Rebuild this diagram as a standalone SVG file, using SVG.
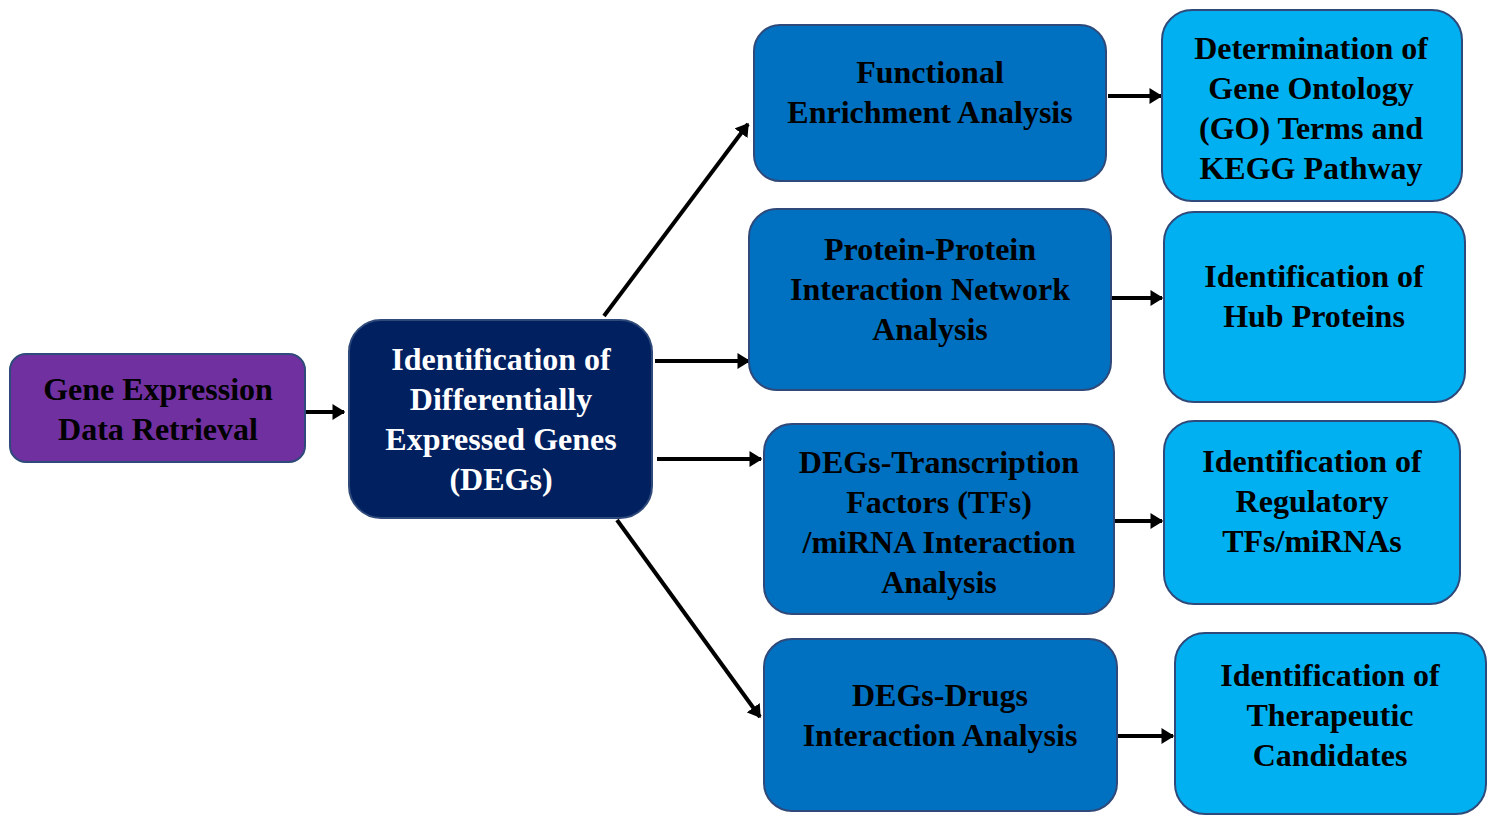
<svg xmlns="http://www.w3.org/2000/svg" width="1492" height="816" viewBox="0 0 1492 816">
<style>
.box{stroke:#2F4A7A;stroke-width:2}
.purple{fill:#7030A0}
.navy{fill:#002060}
.mid{fill:#0070C0}
.light{fill:#00B0F0}
text{font-family:"Liberation Serif","Times New Roman",serif;font-weight:bold;font-size:32px;text-anchor:middle}
.dark{fill:#000}
.white{fill:#fff}
.conn{stroke:#000;stroke-width:4;fill:none;marker-end:url(#ah)}
</style>
<defs>
<marker id="ah" viewBox="0 0 10 10" refX="9" refY="5" markerWidth="3.2" markerHeight="4" orient="auto" markerUnits="strokeWidth" preserveAspectRatio="none">
<path d="M0,0 L10,5 L0,10 z" fill="#000"/>
</marker>
</defs>
<g id="connectors">
<line class="conn" x1="305" y1="412" x2="344" y2="412"/>
<line class="conn" x1="604" y1="316" x2="748" y2="124"/>
<line class="conn" x1="655" y1="361" x2="749" y2="361"/>
<line class="conn" x1="657" y1="459" x2="761" y2="459"/>
<line class="conn" x1="617" y1="520" x2="760" y2="717"/>
<line class="conn" x1="1108" y1="96" x2="1161" y2="96"/>
<line class="conn" x1="1112" y1="298" x2="1162" y2="298"/>
<line class="conn" x1="1115" y1="521" x2="1162" y2="521"/>
<line class="conn" x1="1117" y1="736" x2="1173" y2="736"/>
</g>
<g id="n-gene">
<rect class="box purple" x="10" y="354" width="295" height="108" rx="16"/>
<text class="dark" x="158" y="400">Gene Expression</text>
<text class="dark" x="158" y="440">Data Retrieval</text>
</g>
<g id="n-degs">
<rect class="box navy" x="349" y="320" width="303" height="198" rx="32"/>
<text class="white" x="501" y="370">Identification of</text>
<text class="white" x="501" y="410">Differentially</text>
<text class="white" x="501" y="450">Expressed Genes</text>
<text class="white" x="501" y="490">(DEGs)</text>
</g>
<g id="n-func">
<rect class="box mid" x="754" y="25" width="352" height="156" rx="26"/>
<text class="dark" x="930" y="83">Functional</text>
<text class="dark" x="930" y="123">Enrichment Analysis</text>
</g>
<g id="n-ppi">
<rect class="box mid" x="749" y="209" width="362" height="181" rx="28"/>
<text class="dark" x="930" y="260">Protein-Protein</text>
<text class="dark" x="930" y="300">Interaction Network</text>
<text class="dark" x="930" y="340">Analysis</text>
</g>
<g id="n-tf">
<rect class="box mid" x="764" y="424" width="350" height="190" rx="28"/>
<text class="dark" x="939" y="473">DEGs-Transcription</text>
<text class="dark" x="939" y="513">Factors (TFs)</text>
<text class="dark" x="939" y="553">/miRNA Interaction</text>
<text class="dark" x="939" y="593">Analysis</text>
</g>
<g id="n-drugs">
<rect class="box mid" x="764" y="639" width="353" height="172" rx="28"/>
<text class="dark" x="940" y="706">DEGs-Drugs</text>
<text class="dark" x="940" y="746">Interaction Analysis</text>
</g>
<g id="n-go">
<rect class="box light" x="1162" y="10" width="300" height="191" rx="30"/>
<text class="dark" x="1311" y="59">Determination of</text>
<text class="dark" x="1311" y="99">Gene Ontology</text>
<text class="dark" x="1311" y="139">(GO) Terms and</text>
<text class="dark" x="1311" y="179">KEGG Pathway</text>
</g>
<g id="n-hub">
<rect class="box light" x="1164" y="212" width="301" height="190" rx="30"/>
<text class="dark" x="1314" y="287">Identification of</text>
<text class="dark" x="1314" y="327">Hub Proteins</text>
</g>
<g id="n-reg">
<rect class="box light" x="1164" y="421" width="296" height="183" rx="30"/>
<text class="dark" x="1312" y="472">Identification of</text>
<text class="dark" x="1312" y="512">Regulatory</text>
<text class="dark" x="1312" y="552">TFs/miRNAs</text>
</g>
<g id="n-ther">
<rect class="box light" x="1175" y="633" width="311" height="181" rx="30"/>
<text class="dark" x="1330" y="686">Identification of</text>
<text class="dark" x="1330" y="726">Therapeutic</text>
<text class="dark" x="1330" y="766">Candidates</text>
</g>
</svg>
